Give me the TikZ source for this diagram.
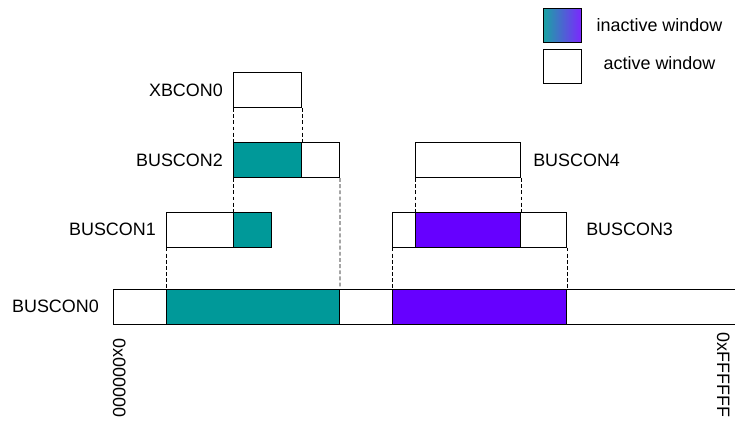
\documentclass[tikz,border=0pt]{standalone}
\usepackage{fontspec}
\setmainfont{Liberation Sans}
\usepackage{xcolor}
\usetikzlibrary{positioning}
\definecolor{winteal}{RGB}{0,153,153}
\definecolor{winpurple}{RGB}{102,0,255}

\tikzset{
  win/.style={draw, fill=white, line width=0.6pt, minimum height=0.7cm, inner sep=0pt, anchor=north west},
  tealwin/.style={win, fill=winteal},
  purplewin/.style={win, fill=winpurple},
  guide/.style={dashed, dash pattern=on 2.2pt off 1.3pt, line width=0.4pt},
  addr/.style={rotate=-90, anchor=base west, inner sep=0pt}
}

\begin{document}
\begin{tikzpicture}[font=\fontsize{10.2}{12}\selectfont]
\useasboundingbox (0,0) rectangle (14.7,-8.4);

% legend
\node[win, minimum width=0.76cm, minimum height=0.68cm, left color=winteal!90!white, right color=winpurple!85!white] (inact) at (10.86,-0.16) {};
\node[win, minimum width=0.76cm, minimum height=0.68cm] (act) at (10.86,-0.98) {};
\node (inacttxt) at (13.19,-0.5) {inactive window};
\node (acttxt) at (13.19,-1.26) {active window};

% address windows
\node[win, minimum width=1.36cm] (xb0) at (4.66,-1.44) {};
\node[win, minimum width=2.12cm] (bc2) at (4.66,-2.84) {};
\node[tealwin, minimum width=1.36cm] (bc2i) at (4.66,-2.84) {};
\node[win, minimum width=2.10cm] (bc1) at (3.32,-4.23) {};
\node[tealwin, minimum width=0.76cm] (bc1i) at (4.66,-4.23) {};
\node[win, minimum width=2.10cm] (bc4) at (8.30,-2.84) {};
\node[win, minimum width=3.48cm] (bc3) at (7.84,-4.23) {};
\node[purplewin, minimum width=2.10cm] (bc3i) at (8.30,-4.23) {};
\node[win, minimum width=13cm] (bc0) at (2.26,-5.77) {};
\node[tealwin, minimum width=3.46cm] (bc0a) at (3.32,-5.77) {};
\node[purplewin, minimum width=3.48cm] (bc0b) at (7.84,-5.77) {};

% register names
\node[left=0.08cm of xb0] (xb0txt) {XBCON0};
\node[left=0.08cm of bc2] (bc2txt) {BUSCON2};
\node[left=0.08cm of bc1] (bc1txt) {BUSCON1};
\node[left=0.16cm of bc0] (bc0txt) {BUSCON0};
\node[right=0.12cm of bc4] (bc4txt) {BUSCON4};
\node[right=0.26cm of bc3] (bc3txt) {BUSCON3};

% address range
\node[addr] (lo) at (2.26,-6.76) {0x000000};
\node[addr] (hi) at (14.34,-6.64) {0xFFFFFF};

% projections
\draw[guide] (xb0.south west) -- (bc2.north west);
\draw[guide] (xb0.south east) -- (bc2i.north east);
\draw[guide] (bc2.south west) -- (bc1i.north west);
\draw[guide] (bc2.south east) -- (bc0a.north east);
\draw[guide] (bc1.south west) -- (bc0a.north west);
\draw[guide] (bc4.south west) -- (bc3i.north west);
\draw[guide] (bc4.south east) -- (bc3i.north east);
\draw[guide] (bc3.south west) -- (bc0b.north west);
\draw[guide] (bc3.south east) -- (bc0b.north east);
\end{tikzpicture}
\end{document}
